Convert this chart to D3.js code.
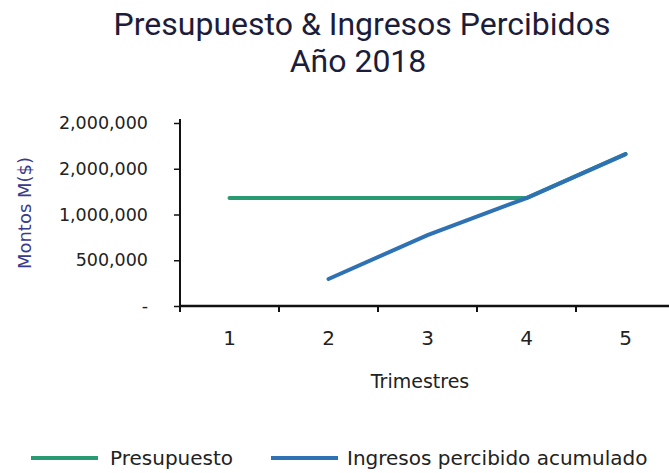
<!DOCTYPE html>
<html><head><meta charset="utf-8">
<script src="https://cdn.jsdelivr.net/npm/d3@7/dist/d3.min.js"></script>
<style>body{margin:0;background:#fff}svg{display:block}</style>
</head><body>
<svg id="c" width="669" height="473"></svg>
<script>
const categories = ["1","2","3","4","5"];
const presupuesto = [1180000, 1180000, 1180000, 1180000, 1660000];
const ingresos = [null, 295000, 775000, 1180000, 1660000];
const yTickValues = [0, 500000, 1000000, 1500000, 2000000];
const yTickLabels = ["-", "500,000", "1,000,000", "2,000,000", "2,000,000"];
const seriesNames = ["Presupuesto", "Ingresos percibido acumulado"];

const svg = d3.select("#c");
const font = "'DejaVu Sans', sans-serif";
const plotLeft = 180, plotBottom = 306, plotTop = 123;
const x = d3.scaleBand().domain(categories).range([plotLeft, plotLeft + 5*99]);
const y = d3.scaleLinear().domain([0, 2000000]).range([plotBottom, plotTop]);

// title
svg.append("text").attr("x", 362).attr("y", 35).attr("text-anchor","middle")
  .attr("font-family","Roboto, sans-serif").attr("font-size",32).attr("fill","#1c1d3a")
  .text("Presupuesto & Ingresos Percibidos");
svg.append("text").attr("x", 358).attr("y", 72).attr("text-anchor","middle")
  .attr("font-family","Roboto, sans-serif").attr("font-size",32).attr("fill","#1c1d3a")
  .text("Año 2018");

// y axis
const ya = svg.append("g").attr("transform",`translate(${plotLeft},0)`)
  .call(d3.axisLeft(y).tickValues(yTickValues).tickSize(6)
    .tickFormat((d,i)=>yTickLabels[i]).tickPadding(26));
ya.select(".domain").attr("stroke","#111").attr("stroke-width",2).attr("d",`M0,${plotTop-4}V${plotBottom+4}`);
ya.selectAll(".tick line").attr("stroke","#111").attr("stroke-width",1.5);
ya.selectAll(".tick text").attr("font-family",font).attr("font-size",17.5).attr("fill","#222");

// x axis
const xa = svg.append("g").attr("transform",`translate(0,${plotBottom})`)
  .call(d3.axisBottom(x).tickSize(0));
xa.select(".domain").attr("stroke","#111").attr("stroke-width",2.5).attr("d",`M${plotLeft},0H669`);
xa.selectAll(".tick text").attr("y",39).attr("dy",0).attr("font-family",font).attr("font-size",20).attr("fill","#222");
svg.append("g").selectAll("line").data(categories.concat(["end"]))
  .join("line")
  .attr("x1",(d,i)=>plotLeft + i*x.step()).attr("x2",(d,i)=>plotLeft + i*x.step())
  .attr("y1",plotBottom-1).attr("y2",plotBottom+6).attr("stroke","#111").attr("stroke-width",2);

// axis titles
svg.append("text").attr("transform","translate(31,213) rotate(-90)").attr("text-anchor","middle")
  .attr("font-family",font).attr("font-size",18).attr("fill","#3a3a8c").text("Montos  M($)");
svg.append("text").attr("x",420).attr("y",388).attr("text-anchor","middle")
  .attr("font-family",font).attr("font-size",19).attr("fill","#222").text("Trimestres");

// lines
const cx = d => x(d) + x.bandwidth()/2;
const line = d3.line().defined(d=>d.v!=null).x(d=>cx(d.c)).y(d=>y(d.v));
const colors = ["#2a9a72", "#2f72b3"];
[presupuesto, ingresos].forEach((s,k)=>{
  svg.append("path").datum(categories.map((c,i)=>({c, v:s[i]})))
    .attr("d", line).attr("fill","none").attr("stroke",colors[k])
    .attr("stroke-width",4).attr("stroke-linecap","round");
});

// legend
const leg = [{x:31, w:67, tx:110}, {x:271, w:67, tx:347}];
seriesNames.forEach((n,i)=>{
  svg.append("line").attr("x1",leg[i].x).attr("x2",leg[i].x+leg[i].w).attr("y1",458).attr("y2",458)
    .attr("stroke",colors[i]).attr("stroke-width",4);
  svg.append("text").attr("x",leg[i].tx).attr("y",465).attr("font-family",font)
    .attr("font-size",20).attr("fill","#222").text(n);
});
</script>
</body></html>
